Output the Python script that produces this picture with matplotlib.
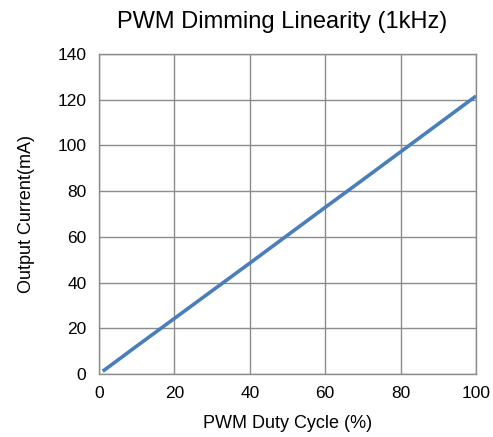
import matplotlib
matplotlib.use("Agg")
import matplotlib.pyplot as plt

plt.rcParams['font.family'] = ['Liberation Sans', 'DejaVu Sans']

# PWM duty cycle (%) vs output current (mA)
duty = [1, 10, 20, 30, 40, 50, 60, 70, 80, 90, 100]
current = [1.2, 12.2, 24.3, 36.4, 48.5, 60.7, 72.9, 85.0, 97.2, 109.4, 121.6]

x_ticks = [0, 20, 40, 60, 80, 100]
y_ticks = [0, 20, 40, 60, 80, 100, 120, 140]

fig = plt.figure(figsize=(4.93, 4.37), dpi=100)
ax = fig.add_axes([0.2008, 0.1442, 0.7647, 0.7322])

ax.plot(duty, current, color='#4a7ebb', linewidth=2.6, solid_capstyle='butt')

ax.set_xlim(0, 100)
ax.set_ylim(0, 140)
ax.set_xticks(x_ticks)
ax.set_yticks(y_ticks)
ax.tick_params(length=0, labelsize=12.5, pad=9)
ax.grid(True, color='#8c8c8c', linewidth=1.0)
ax.set_axisbelow(True)
for s in ax.spines.values():
    s.set_color('#8c8c8c')
    s.set_linewidth(1.0)

ax.set_xlabel('PWM Duty Cycle (%)', fontsize=13, labelpad=10)
ax.set_ylabel('Output Current(mA)', fontsize=13, labelpad=16)
ax.set_title('PWM Dimming Linearity (1kHz)', fontsize=17, pad=19, x=0.487)

fig.savefig('out.png', dpi=100)
